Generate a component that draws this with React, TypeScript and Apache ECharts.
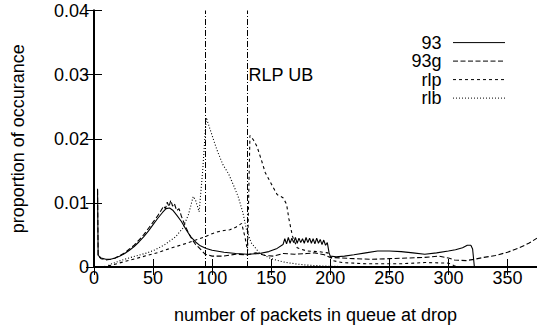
import React, { useEffect, useRef } from 'react';
import * as echarts from 'echarts';

const seriesNames = ['93', '93g', 'rlp', 'rlb'];

const s93: [number, number][] = [
  [3, 0.0122], [3.5, 0.0018], [6, 0.0014], [10, 0.0012], [14, 0.0012], [18, 0.0014], [22, 0.0017],
  [26, 0.0021], [30, 0.0026], [34, 0.0032], [38, 0.0039], [42, 0.0047], [46, 0.0056], [50, 0.0066],
  [54, 0.0076], [58, 0.0085], [61, 0.0091], [64, 0.0092], [67, 0.0088], [70, 0.0081], [74, 0.0071],
  [78, 0.0058], [82, 0.0047], [86, 0.0039], [90, 0.0033], [95, 0.0029], [100, 0.0026], [110, 0.0023],
  [120, 0.0021], [130, 0.002], [140, 0.0021], [148, 0.0024], [155, 0.0029], [160, 0.0035],
  [161.5, 0.0044], [163, 0.0036], [164.5, 0.0046], [166, 0.0037], [167.5, 0.0045], [169, 0.0038],
  [170.5, 0.0046], [172, 0.0037], [173.5, 0.0045], [175, 0.0038], [176.5, 0.0044], [178, 0.0037],
  [179.5, 0.0046], [181, 0.0038], [182.5, 0.0045], [184, 0.0037], [185.5, 0.0044], [187, 0.0036],
  [188.5, 0.0045], [190, 0.0037], [191.5, 0.0043], [193, 0.0035], [194.5, 0.0042], [196, 0.0034],
  [197.5, 0.0038], [199, 0.0022], [200, 0.0017], [205, 0.0016], [212, 0.0017], [220, 0.0019],
  [230, 0.0022], [240, 0.0025], [250, 0.0025], [260, 0.0024], [270, 0.0022], [280, 0.002],
  [290, 0.0022], [300, 0.0025], [306, 0.0027], [312, 0.003], [316, 0.0034], [319, 0.0034],
  [320.5, 0.0028], [322, 0],
];

const s93g: [number, number][] = [
  [3, 0.012], [3.5, 0.0017], [6, 0.0013], [10, 0.0011], [14, 0.0012], [18, 0.0014], [22, 0.0018],
  [26, 0.0022], [30, 0.0028], [34, 0.0034], [38, 0.0042], [42, 0.005], [46, 0.006], [50, 0.007],
  [54, 0.008], [57, 0.0089], [59, 0.0095], [60.5, 0.0091], [62, 0.0101], [63.5, 0.0094], [65, 0.0104],
  [66.5, 0.0095], [68, 0.0099], [70, 0.0088], [72, 0.0091], [74, 0.0079], [77, 0.0065], [80, 0.0053],
  [83, 0.0043], [86, 0.0035], [89, 0.003], [94, 0.002], [100, 0.0017], [110, 0.0017], [120, 0.002],
  [130, 0.0019], [137, 0.0022], [145, 0.0018], [152, 0.0017], [160, 0.0021], [170, 0.002],
  [180, 0.0021], [187, 0.0022], [195, 0.0019], [200, 0.0015], [210, 0.0014], [220, 0.0013],
  [235, 0.0012], [250, 0.0013], [265, 0.0014], [280, 0.0015], [292, 0.0017], [300, 0.0014],
  [305, 0.0011], [315, 0.001], [322, 0.0012], [330, 0.0015], [340, 0.0018], [350, 0.0023],
  [360, 0.003], [368, 0.0037], [375, 0.0045],
];

const sRlp: [number, number][] = [
  [7, 0], [15, 0.0003], [25, 0.0008], [35, 0.0013], [45, 0.0018], [55, 0.0023], [66, 0.003],
  [75, 0.0035], [86, 0.0042], [95, 0.0048], [100, 0.0052], [105, 0.0055], [110, 0.0057],
  [115, 0.0058], [120, 0.0062], [125, 0.0068], [128, 0.0045], [130, 0.0025], [132, 0.0205],
  [135, 0.0198], [138, 0.0188], [142, 0.0165], [145, 0.0147], [150, 0.013], [155, 0.0113],
  [160, 0.0108], [163, 0.0098], [165, 0.0075], [168, 0.0048], [172, 0.003], [180, 0.0025],
  [190, 0.0024], [198, 0.0022], [202, 0.001], [210, 0.0007], [230, 0.0005], [260, 0.0005],
  [280, 0.0007], [300, 0.0006], [305, 0.0002], [310, 0],
];

const sRlb: [number, number][] = [
  [10, 0], [15, 0.0005], [24, 0.0011], [35, 0.0017], [45, 0.0022], [52, 0.0027], [60, 0.0035],
  [69, 0.0047], [75, 0.006], [80, 0.0082], [84, 0.011], [86, 0.0104], [89, 0.0086], [92, 0.015],
  [95, 0.0233], [100, 0.0205], [104, 0.0183], [109, 0.016], [114, 0.0145], [118, 0.0128],
  [122, 0.011], [126, 0.0085], [129, 0.0059], [133, 0.0038], [140, 0.0022], [150, 0.0013],
  [160, 0.0008], [170, 0.0005], [180, 0.0003], [190, 0.0002], [200, 0.0001], [230, 0.00005], [260, 0],
];

const seriesData = [s93, s93g, sRlp, sRlb];
const dashTypes: any[] = ['solid', [5, 2.5], [3, 3], [1, 2]];

const xRange = { min: 0, max: 375, interval: 50 };
const yRange = { min: 0, max: 0.04, interval: 0.01 };
const ubLines = [94.5, 130];
const ubLabel = 'RLP UB';
const ubLabelY = 0.03;

const xName = 'number of packets in queue at drop';
const yName = 'proportion of occurance';

const FONT = '"Liberation Sans", Arial, Helvetica, sans-serif';

export default function App() {
  const ref = useRef<HTMLDivElement>(null);
  useEffect(() => {
    const chart = echarts.init(ref.current!, null, { renderer: 'svg' });
    const axisCommon = {
      axisLine: { show: true, lineStyle: { color: '#000', width: 2 } },
      axisTick: { show: true, inside: true, length: 8, lineStyle: { color: '#000', width: 1 } },
      splitLine: { show: false },
    };
    const series: any[] = seriesNames.map((name, i) => ({
      name,
      type: 'line',
      data: seriesData[i],
      showSymbol: false,
      symbol: 'none',
      xAxisIndex: 0,
      yAxisIndex: 0,
      lineStyle: { color: '#000', width: 1.1, type: dashTypes[i] },
      z: 3,
    }));
    series[0].markLine = {
      silent: true,
      symbol: ['none', 'none'],
      label: { show: false },
      lineStyle: { color: '#000', width: 1, type: [6, 2, 1, 2] },
      data: ubLines.map((v) => ({ xAxis: v })),
    };
    series[0].markPoint = {
      silent: true,
      symbol: 'circle',
      symbolSize: 0,
      label: {
        show: true,
        position: 'right',
        distance: 1,
        formatter: ubLabel,
        color: '#000',
        fontSize: 18,
        fontFamily: FONT,
      },
      data: [{ coord: [ubLines[1], ubLabelY] }],
    };

    const legendGraphics: any[] = [];
    seriesNames.forEach((name, i) => {
      const y = 42.6 + i * 18.5;
      legendGraphics.push({
        type: 'text',
        x: 441.5,
        y,
        style: {
          text: name,
          textAlign: 'right',
          textVerticalAlign: 'middle',
          fill: '#000',
          fontSize: 18,
          fontFamily: FONT,
        },
      });
      legendGraphics.push({
        type: 'line',
        shape: { x1: 453, y1: y, x2: 505, y2: y },
        style: { stroke: '#000', lineWidth: 1, lineDash: dashTypes[i] === 'solid' ? null : dashTypes[i] },
      });
    });

    chart.setOption({
      animation: false,
      backgroundColor: '#fff',
      textStyle: { fontFamily: FONT, color: '#000' },
      grid: { left: 94, right: -4, top: 10.5, bottom: 61.3, containLabel: false },
      xAxis: [
        {
          type: 'value',
          position: 'bottom',
          ...xRange,
          ...axisCommon,
          axisLabel: { show: true, margin: 2, fontSize: 18, color: '#000', fontFamily: FONT, showMaxLabel: false },
          name: xName,
          nameLocation: 'middle',
          nameGap: 39,
          nameTextStyle: { fontSize: 18, color: '#000', fontFamily: FONT },
        },
        {
          type: 'value',
          position: 'top',
          ...xRange,
          ...axisCommon,
          axisLabel: { show: false },
        },
      ],
      yAxis: [
        {
          type: 'value',
          position: 'left',
          ...yRange,
          ...axisCommon,
          axisLabel: {
            show: true,
            margin: 5,
            fontSize: 18,
            color: '#000',
            fontFamily: FONT,
            formatter: (v: number) => (v === 0 ? '0' : v.toFixed(2)),
          },
          name: yName,
          nameLocation: 'middle',
          nameGap: 67,
          nameRotate: 90,
          nameTextStyle: { fontSize: 18, color: '#000', fontFamily: FONT },
        },
        {
          type: 'value',
          position: 'right',
          ...yRange,
          ...axisCommon,
          axisLabel: { show: false },
        },
      ],
      series,
      graphic: legendGraphics,
    });
    return () => chart.dispose();
  }, []);
  return (
    <div
      ref={ref}
      style={{ position: 'fixed', left: 0, top: 0, width: 537, height: 329, background: '#fff' }}
    />
  );
}
